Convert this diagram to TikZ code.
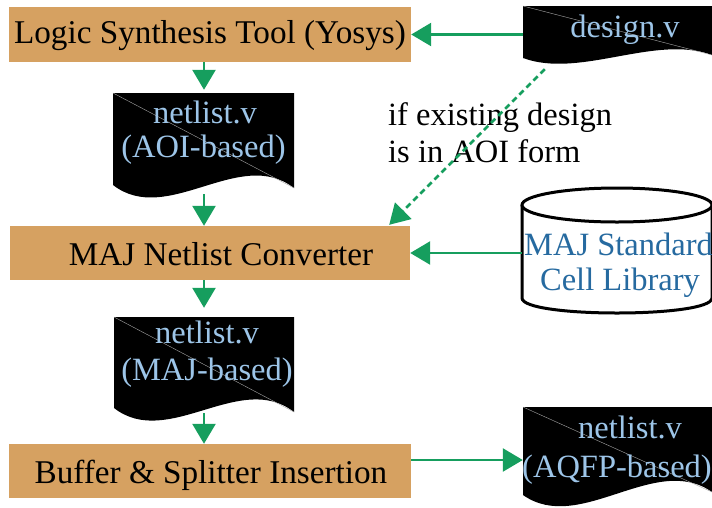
\documentclass[tikz,border=0pt]{standalone}
\usepackage{fontspec}
\setmainfont{Liberation Serif}
\usetikzlibrary{arrows.meta,calc}
\definecolor{boxtan}{RGB}{214,161,97}
\definecolor{flowgreen}{RGB}{22,158,94}
\definecolor{filetext}{RGB}{157,197,232}
\definecolor{libtext}{RGB}{38,106,160}

% document (file) symbol: black sheet with a wavy lower edge
% #1 left, #2 top, #3 right, #4 left bottom, #5 right bottom, #6 wave depth
\newcommand\filesheet[6]{%
  \fill[black] (#1,#2) -- (#3,#2) -- (#3,#5)
    .. controls ({#3-0.3*(#3-#1)},{#5-#6}) and ({#1+0.3*(#3-#1)},{#4+#6}) .. (#1,#4) -- cycle;
  \draw[gray!70, line width=0.4pt] (#1,#2) -- (#3,#5);
}

\begin{document}
\begin{tikzpicture}[x=1pt,y=-1pt,
  every node/.style={inner sep=0pt, font=\fontsize{32.5}{36}\selectfont},
  stepbox/.style={fill=boxtan, minimum width=#1, minimum height=54pt},
  area/.style={minimum width=#1},
  boxlabel/.style={anchor=base, text=black, font=\fontsize{33.2}{36}\selectfont},
  filelabel/.style={anchor=base, text=filetext},
  liblabel/.style={anchor=base, text=libtext},
  arr/.style={draw=flowgreen, line width=2.5pt, -{Triangle[width=23pt,length=20pt]}},
  condarr/.style={arr, dash pattern=on 6pt off 4pt}
]
\useasboundingbox (0,0) rectangle (712,507);

% process steps
\node[stepbox=402pt, minimum height=55pt] (box1) at (210,34.5) {};
\node[stepbox=400pt] (box2) at (210,253) {};
\node[stepbox=402pt] (box3) at (210,471) {};
\node[boxlabel] (t1) at (210,43) {Logic Synthesis Tool (Yosys)};
\node[boxlabel] (t2) at (221,265) {MAJ Netlist Converter};
\node[boxlabel] (t3) at (211,483) {Buffer \& Splitter Insertion};

% files
\filesheet{523}{6}{712}{58}{55}{21}
\filesheet{113}{93}{294}{185}{188}{42}
\filesheet{114}{317}{294}{408}{412}{42}
\filesheet{523}{407}{712}{495}{492}{40}
\node[area=189pt, minimum height=52pt] (doc1) at (617.5,32) {};
\node[area=181pt, minimum height=92pt] (doc2) at (204,139) {};
\node[area=180pt, minimum height=91pt] (doc3) at (204,362.5) {};
\node[area=189pt, minimum height=88pt] (doc4) at (617.5,451) {};
\node[filelabel] (d1) at (625,37) {design.v};
\node[filelabel] (d2a) at (205,123) {netlist.v};
\node[filelabel] (d2b) at (203.5,157) {(AOI-based)};
\node[filelabel] (d3a) at (207,343) {netlist.v};
\node[filelabel] (d3b) at (207,380) {(MAJ-based)};
\node[filelabel] (d4a) at (630,438) {netlist.v};
\node[filelabel] (d4b) at (617,477) {(AQFP-based)};

% standard cell library (cylinder)
\draw[line width=3pt, fill=white] (522,205) -- (522,298)
  .. controls (522,318) and (712,318) .. (712,298) -- (712,205);
\draw[line width=3pt, fill=white] (617,205) ellipse [x radius=95, y radius=17];
\node[area=190pt, minimum height=125pt] (lib) at (617,250.5) {};
\node[liblabel] (l1) at (618.5,255) {MAJ Standard};
\node[liblabel] (l2) at (620,290) {Cell Library};

% condition note
\node[anchor=base west] (n1) at (388,125) {if existing design};
\node[anchor=base west] (n2) at (388,162) {is in AOI form};

% flow
\draw[arr] (doc1.west |- box1.east) -- (box1.east);
\draw[arr, shorten >=3pt] (doc2.north |- box1.south) -- (doc2.north);
\draw[arr, shorten <=9pt] (doc2.south) -- (doc2.south |- box2.north);
\draw[arr, shorten >=9pt] (doc3.north |- box2.south) -- (doc3.north);
\draw[arr, shorten <=5pt] (doc3.south) -- (doc3.south |- box3.north);
\draw[arr] ([yshift=11pt]box3.east) -- ([yshift=11pt]box3.east -| doc4.west);
\draw[arr] (lib.west |- box2.east) -- (box2.east);
\draw[condarr] ($(doc1.south west)+(22,11)$) -- ($(box2.north east)+(-21,-1)$);
\end{tikzpicture}
\end{document}
